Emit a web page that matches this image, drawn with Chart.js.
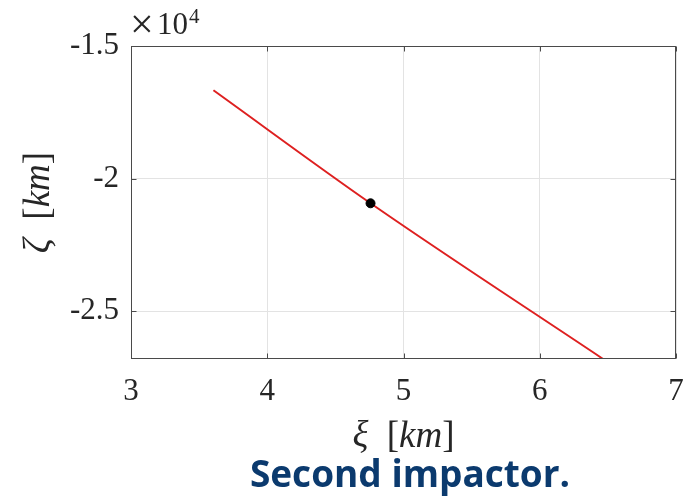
<!DOCTYPE html>
<html><head><meta charset="utf-8">
<script src="https://cdn.jsdelivr.net/npm/chart.js@4/dist/chart.umd.min.js"></script>
<style>html,body{margin:0;padding:0;background:#fff;} canvas{display:block;}</style>
</head><body>
<canvas id="c" width="684" height="501"></canvas>
<script>
// ---- data ----
const xiValues   = [3.605, 4.758, 6.465];
const zetaValues = [-16670, -20930, -26800];
const markerXi   = [4.758];
const markerZeta = [-20930];
const xTicks = [3, 4, 5, 6, 7];
const xTickLabels = ['3', '4', '5', '6', '7'];
const yTicks = [-25000, -20000, -15000];
const yTickLabels = ['-2.5', '-2', '-1.5'];
const xRange = [3, 7];
const yRange = [-26800, -15000];
const xTitleParts = [['ξ', true], ['  [', false], ['km', true], [']', false]];
const yTitleParts = [['ζ', true], ['  [', false], ['km', true], [']', false]];
const exponentTimes = '×';
const exponentBase = '10';
const exponentPower = '4';
const caption = 'Second impactor.';

const serifName = 'Liberation Serif';
const serif = "'Liberation Serif', serif";
const textColor = '#262626';
const axisColor = '#4a4a4a';

function drawParts(ctx, parts, size, cx, baseline) {
  let total = 0;
  const widths = parts.map(([t, it]) => {
    ctx.font = (it ? 'italic ' : '') + size + 'px ' + serif;
    const w = ctx.measureText(t).width; total += w; return w;
  });
  let x = cx - total / 2;
  ctx.textAlign = 'left';
  ctx.textBaseline = 'alphabetic';
  parts.forEach(([t, it], i) => {
    ctx.font = (it ? 'italic ' : '') + size + 'px ' + serif;
    ctx.fillText(t, x, baseline);
    x += widths[i];
  });
}

const decor = {
  id: 'decor',
  afterDatasetsDraw(chart) {
    const ctx = chart.ctx;
    const a = chart.chartArea;
    const xs = chart.scales.x, ys = chart.scales.y;
    ctx.save();
    ctx.strokeStyle = axisColor;
    ctx.lineWidth = 1;
    const L = Math.round(a.left) + 0.5, R = Math.round(a.right) - 0.5;
    const T = Math.round(a.top) + 0.5, B = Math.round(a.bottom) - 0.5;
    ctx.strokeRect(L, T, R - L, B - T);
    const tl = 5;
    ctx.beginPath();
    xTicks.forEach(v => {
      const px = Math.round(xs.getPixelForValue(v)) + 0.5;
      ctx.moveTo(px, B); ctx.lineTo(px, B - tl);
      ctx.moveTo(px, T); ctx.lineTo(px, T + tl);
    });
    yTicks.forEach(v => {
      const py = Math.round(ys.getPixelForValue(v)) + 0.5;
      ctx.moveTo(L, py); ctx.lineTo(L + tl, py);
      ctx.moveTo(R, py); ctx.lineTo(R - tl, py);
    });
    ctx.stroke();
    ctx.restore();
  },
  afterDraw(chart) {
    const ctx = chart.ctx;
    const a = chart.chartArea;
    ctx.save();
    ctx.fillStyle = textColor;
    drawParts(ctx, xTitleParts, 37, (a.left + a.right) / 2, 447);
    ctx.save();
    ctx.translate(49, (a.top + a.bottom) / 2);
    ctx.rotate(-Math.PI / 2);
    drawParts(ctx, yTitleParts, 37, 0, 0);
    ctx.restore();
    ctx.textAlign = 'left';
    ctx.textBaseline = 'alphabetic';
    ctx.font = '42px ' + serif;
    ctx.fillText(exponentTimes, a.left - 1, 38);
    ctx.font = '31px ' + serif;
    ctx.fillText(exponentBase, a.left + 26, 34);
    const w = ctx.measureText(exponentBase).width;
    ctx.font = '21px ' + serif;
    ctx.fillText(exponentPower, a.left + 26 + w + 1, 23);
    ctx.fillStyle = '#0b3a6e';
    ctx.font = "bold 37px 'Open Sans', 'Noto Sans', sans-serif";
    ctx.textAlign = 'center';
    ctx.fillText(caption, 410, 487, 322);
    ctx.restore();
  }
};

function build() {
  new Chart(document.getElementById('c'), {
    type: 'scatter',
    data: {
      datasets: [
        {
          label: 'marker',
          data: markerXi.map((x, i) => ({ x, y: markerZeta[i] })),
          backgroundColor: '#000',
          borderColor: '#000',
          pointRadius: 4.5,
          pointHoverRadius: 4.5,
          showLine: false
        },
        {
          label: 'trajectory',
          data: xiValues.map((x, i) => ({ x, y: zetaValues[i] })),
          borderColor: 'rgb(222,32,32)',
          backgroundColor: 'rgb(222,32,32)',
          borderWidth: 2,
          pointRadius: 0,
          showLine: true,
          cubicInterpolationMode: 'monotone'
        }
      ]
    },
    options: {
      responsive: false,
      animation: false,
      devicePixelRatio: 1,
      layout: { padding: { top: 46, right: 8, left: 0, bottom: 0 } },
      plugins: { legend: { display: false }, tooltip: { enabled: false }, title: { display: false } },
      events: [],
      scales: {
        x: {
          type: 'linear',
          min: xRange[0], max: xRange[1],
          afterFit(s) { s.height = 142; s.paddingLeft = 0; s.paddingRight = 0; },
          afterBuildTicks(s) { s.ticks = xTicks.map(v => ({ value: v })); },
          grid: { color: '#e3e3e3', lineWidth: 1, drawTicks: false },
          border: { display: false },
          ticks: {
            padding: 14,
            color: textColor,
            font: { family: serif, size: 31 },
            maxRotation: 0,
            callback: (v) => xTickLabels[xTicks.indexOf(v)]
          }
        },
        y: {
          type: 'linear',
          min: yRange[0], max: yRange[1],
          afterFit(s) { s.width = 131; s.paddingTop = 0; s.paddingBottom = 0; },
          afterBuildTicks(s) { s.ticks = yTicks.map(v => ({ value: v })); },
          grid: { color: '#e3e3e3', lineWidth: 1, drawTicks: false },
          border: { display: false },
          ticks: {
            padding: 12,
            color: textColor,
            font: { family: serif, size: 31 },
            callback: (v) => yTickLabels[yTicks.indexOf(v)]
          }
        }
      }
    },
    plugins: [decor]
  });
}

const fontLoads = [
  '31px "' + serifName + '"',
  'italic 37px "' + serifName + '"',
  'bold 37px "Open Sans"'
].map(f => document.fonts.load(f).catch(() => null));
Promise.all(fontLoads).then(build, build);
</script>
</body></html>
